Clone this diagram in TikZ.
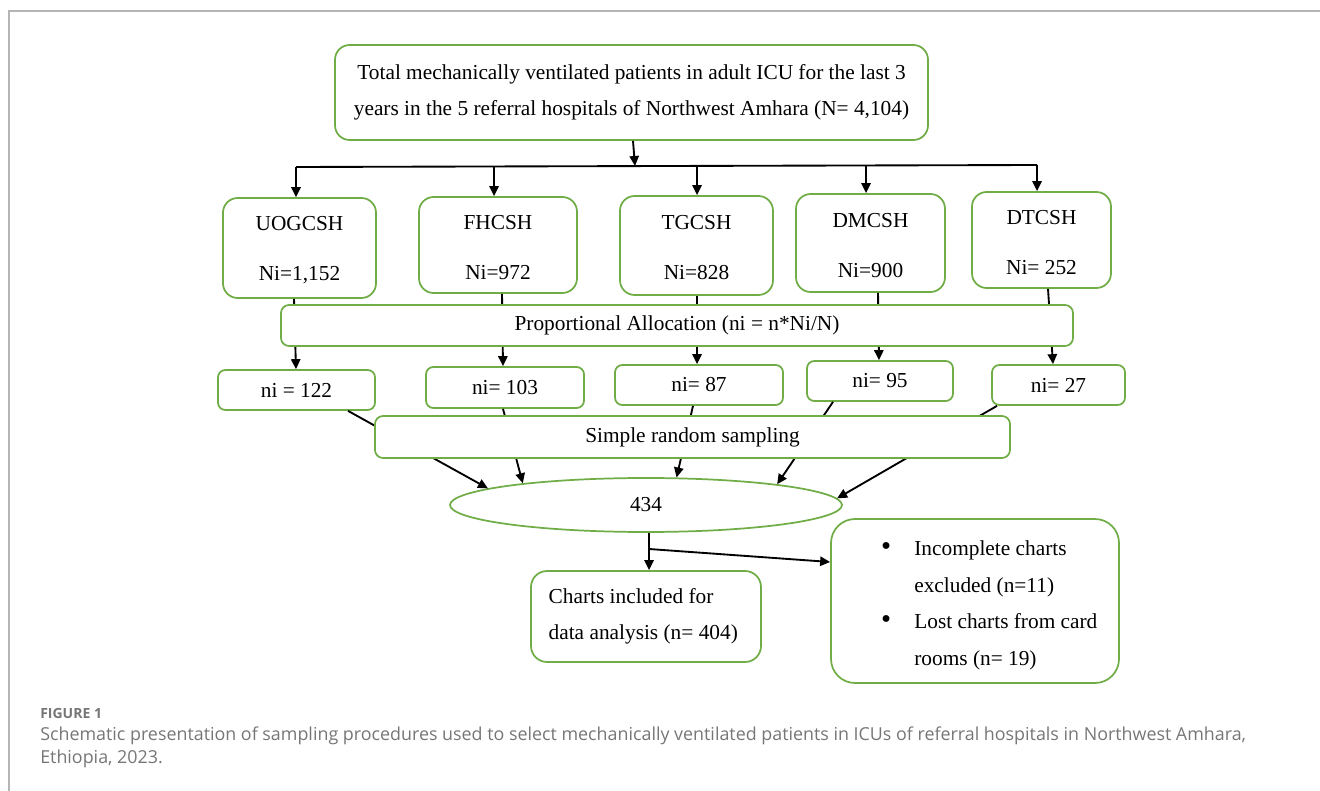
\documentclass[tikz,border=0pt]{standalone}
\usepackage{fontspec}
\setmainfont{Liberation Serif}
\newfontfamily\capfont{Open Sans}
\usetikzlibrary{shapes.geometric,arrows.meta,calc}
\definecolor{boxgreen}{HTML}{70AD47}
\definecolor{capgray}{HTML}{767676}
\definecolor{framegray}{HTML}{B5B5B5}
\newcommand{\bul}{\scalebox{1.35}{\textbullet}}
\tikzset{
  gbox/.style={draw=boxgreen, line width=1.3pt, fill=white, rounded corners=11pt, align=center, inner sep=0pt,
    font=\fontsize{16}{27}\selectfont},
  hbox/.style={gbox, font=\fontsize{16}{37.5}\selectfont},
  nbox/.style={gbox, rounded corners=5.5pt},
  ellbox/.style={draw=boxgreen, line width=1.3pt, fill=white, ellipse, inner sep=0pt, font=\fontsize{16}{27}\selectfont},
  arr/.style={draw=black, line width=1.4pt, -{Triangle[length=7.5pt,width=7pt]}},
  plain/.style={draw=black, line width=1.4pt},
  captxt/.style={text=capgray, anchor=west, inner sep=0pt},
}
\begin{document}
\begin{tikzpicture}[x=0.75pt,y=-0.75pt]
\useasboundingbox (0,0) rectangle (1320,791);
% frame
\draw[framegray, line width=1.1pt] (9,791) -- (9,11) -- (1320,11);

% top box
\node[gbox, minimum width=444.75pt, minimum height=71.25pt] (top) at (631.5,92.5)
  {Total mechanically ventilated patients in adult ICU for the last 3\\years in the 5 referral hospitals of Northwest Amhara (N= 4,104)};

% hospital boxes
\node[hbox, minimum width=114.75pt, minimum height=75pt] (uog) at (299.5,248) {\rule{0pt}{14pt}UOGCSH\\Ni=1,152};
\node[hbox, minimum width=118.5pt, minimum height=72pt] (fh) at (498,245) {\rule{0pt}{14pt}FHCSH\\Ni=972};
\node[hbox, minimum width=114.75pt, minimum height=74.25pt] (tg) at (696.5,245.5) {\rule{0pt}{14pt}TGCSH\\Ni=828};
\node[hbox, minimum width=111.75pt, minimum height=73.5pt] (dm) at (870.5,243) {\rule{0pt}{14pt}DMCSH\\Ni=900};
\node[hbox, minimum width=104.25pt, minimum height=72pt] (dt) at (1041.5,240) {\rule{0pt}{14pt}DTCSH\\Ni= 252};

% ni boxes
\node[nbox, minimum width=117.75pt, minimum height=30pt] (n1) at (296.5,390) {ni = 122};
\node[nbox, minimum width=118.5pt, minimum height=30.75pt] (n2) at (505,387.5) {ni= 103};
\node[nbox, minimum width=126pt, minimum height=30pt] (n3) at (699,385) {ni= 87};
\node[nbox, minimum width=109.5pt, minimum height=30pt] (n4) at (880,381) {ni= 95};
\node[nbox, minimum width=99.75pt, minimum height=30pt] (n5) at (1058.5,385) {ni= 27};

% ellipse
\node[ellbox, minimum width=294pt, minimum height=40.5pt] (ell) at (646,505) {434};

% bottom boxes
\node[gbox, rounded corners=12pt, minimum width=172.5pt, minimum height=68.25pt, align=flush left, text width=170pt] (charts) at (646,616.5)
  {\hspace*{12pt}Charts included for\\\hspace*{12pt}data analysis (n= 404)};
\node[gbox, rounded corners=18pt, minimum width=216pt, minimum height=123pt, align=flush left, text width=214pt,
  font=\fontsize{16}{27.5}\selectfont] (excl) at (975,601)
  {\rule{0pt}{17.5pt}\hspace*{36.5pt}\makebox[25pt][l]{\bul}Incomplete charts\\\hspace*{61.5pt}excluded (n=11)\\
   \hspace*{36.5pt}\makebox[25pt][l]{\bul}Lost charts from card\\\hspace*{61.5pt}rooms (n= 19)};

% connectors: top to hospitals
\coordinate (bl) at (296,167);
\coordinate (b2) at (494,166.5);
\coordinate (bm) at (635,166);
\coordinate (b3) at (697,166);
\coordinate (b4) at (866,165.5);
\coordinate (br) at (1037,165);
\draw[arr] ($(top.south)+(1.5,0)$) -- (bm);
\draw[plain] (bl) -- (br);
\draw[arr] (bl) -- (uog.north -| bl);
\draw[arr] (b2) -- (fh.north -| b2);
\draw[arr] (b3) -- (tg.north -| b3);
\draw[arr] (b4) -- (dm.north -| b4);
\draw[arr] (br) -- (dt.north -| br);

% hospitals to ni (behind allocation box)
\draw[arr] ($(uog.south)+(-5.5,0)$) -- ($(n1.north)+(-0.5,0)$);
\draw[arr] ($(fh.south)+(4,0)$) -- ($(n2.north)+(-2,0)$);
\draw[arr] ($(tg.south)+(0.5,0)$) -- ($(n3.north)+(-2,0)$);
\draw[arr] ($(dm.south)+(7.5,0)$) -- ($(n4.north)+(-1,0)$);
\draw[arr] ($(dt.south)+(6.5,0)$) -- ($(n5.north)+(-5.5,0)$);

% ni to ellipse (behind sampling box)
\draw[arr] ($(n1.south)+(51.5,0)$) -- (ell.174.5);
\draw[arr] ($(n2.south)+(-2,0)$) -- (ell.170.3);
\draw[arr] ($(n3.south)+(-6,0)$) -- (ell.42.6);
\draw[arr] ($(n4.south)+(-47,0)$) -- (ell.9.2);
\draw[arr] ($(n5.south)+(-61.5,0)$) -- (ell.2.6);

% overlay boxes
\node[gbox, rounded corners=6pt, minimum width=594pt, minimum height=30.75pt] (prop) at (677,325.5)
  {Proportional Allocation (ni = n*Ni/N)};
\node[gbox, rounded corners=6pt, minimum width=476.25pt, minimum height=31.5pt] (srs) at (692.5,437)
  {Simple random sampling};

% ellipse to outcomes
\coordinate (sp) at (649,549);
\coordinate (ep) at (0,562);
\draw[plain] (ell.south -| sp) -- (sp);
\draw[arr] (sp) -- (charts.north -| sp);
\draw[arr] (sp) -- (excl.west |- ep);

% caption
\node[captxt, font=\capfont\bfseries\fontsize{10.5}{12}\selectfont] (figlab) at (40,713) {FIGURE 1};
\node[captxt, font=\capfont\fontsize{13.4}{16}\selectfont] (cap1) at (40,736)
  {Schematic presentation of sampling procedures used to select mechanically ventilated patients in ICUs of referral hospitals in Northwest Amhara,};
\node[captxt, font=\capfont\fontsize{13.4}{16}\selectfont] (cap2) at (40,759) {Ethiopia, 2023.};
\end{tikzpicture}
\end{document}
